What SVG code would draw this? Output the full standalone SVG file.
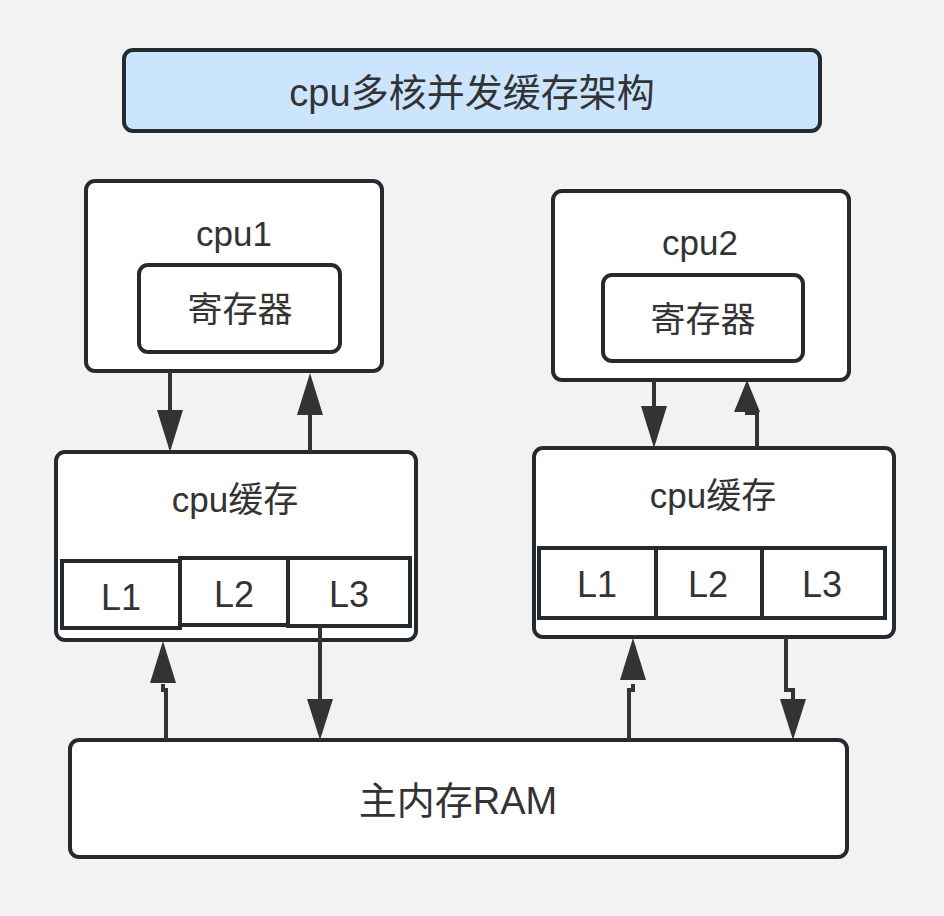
<svg xmlns="http://www.w3.org/2000/svg" width="944" height="916" viewBox="0 0 944 916">
<defs>
<style>
.box{fill:#ffffff;stroke:#252a31;stroke-width:4}
.t{font-family:"Liberation Sans","Noto Sans CJK SC",sans-serif;fill:#333333;text-anchor:middle}
.ln{fill:none;stroke:#333333;stroke-width:4}
.hd{fill:#333333}
</style>
</defs>
<rect width="944" height="916" fill="#f2f2f2"/>
<g id="title">
<rect x="124" y="50" width="696" height="81" rx="9" fill="#cce5ff" stroke="#252a31" stroke-width="4"/>
<text class="t" x="472" y="106" font-size="38">cpu多核并发缓存架构</text>
</g>
<g id="cpu1">
<rect class="box" x="86" y="181" width="296" height="190" rx="9"/>
<text class="t" x="234" y="246" font-size="35">cpu1</text>
</g>
<g id="reg1">
<rect class="box" x="139" y="265" width="201" height="87" rx="9"/>
<text class="t" x="240" y="322" font-size="35">寄存器</text>
</g>
<g id="cpu2">
<rect class="box" x="553" y="191" width="296" height="189" rx="9"/>
<text class="t" x="700" y="255" font-size="35">cpu2</text>
</g>
<g id="reg2">
<rect class="box" x="603" y="275" width="200" height="86" rx="9"/>
<text class="t" x="703" y="332" font-size="35">寄存器</text>
</g>
<g id="cache1">
<rect class="box" x="56" y="452" width="360" height="188" rx="9"/>
<text class="t" x="235" y="512" font-size="35">cpu缓存</text>
</g>
<g id="c1L1">
<rect class="box" x="62" y="561" width="118" height="67"/>
<text class="t" x="121" y="610" font-size="36">L1</text>
</g>
<g id="c1L2">
<rect class="box" x="180" y="558" width="108" height="67"/>
<text class="t" x="234" y="607" font-size="36">L2</text>
</g>
<g id="c1L3">
<rect class="box" x="288" y="558" width="122" height="68"/>
<text class="t" x="349" y="607" font-size="36">L3</text>
</g>
<g id="cache2">
<rect class="box" x="534" y="448" width="360" height="189" rx="9"/>
<text class="t" x="713" y="508" font-size="35">cpu缓存</text>
</g>
<g id="c2L1">
<rect class="box" x="539" y="548" width="117" height="70"/>
<text class="t" x="597" y="597" font-size="36">L1</text>
</g>
<g id="c2L2">
<rect class="box" x="656" y="548" width="106" height="70"/>
<text class="t" x="708" y="597" font-size="36">L2</text>
</g>
<g id="c2L3">
<rect class="box" x="762" y="548" width="123" height="70"/>
<text class="t" x="822" y="597" font-size="36">L3</text>
</g>
<g id="ram">
<rect class="box" x="70" y="740" width="777" height="117" rx="9"/>
<text class="t" x="458" y="814" font-size="38">主内存RAM</text>
</g>
<g id="connectors">
<path class="ln" d="M170 371 V412"/>
<path class="hd" d="M157 410 L183 410 L170 452 Z"/>
<path class="ln" d="M310 452 V412"/>
<path class="hd" d="M297 415 L323 415 L310 373 Z"/>
<path class="ln" d="M654 380 V408"/>
<path class="hd" d="M641 406 L667 406 L654 448 Z"/>
<path class="ln" d="M757 448 V413 H747 V410"/>
<path class="hd" d="M734 412 L760 412 L747 380 Z"/>
<path class="ln" d="M166 740 V690 H163 V684"/>
<path class="hd" d="M150 683 L176 683 L163 641 Z"/>
<path class="ln" d="M320 626 V702"/>
<path class="hd" d="M307 699 L333 699 L320 740 Z"/>
<path class="ln" d="M629 740 V690 H633 V684"/>
<path class="hd" d="M620 680 L646 680 L633 638 Z"/>
<path class="ln" d="M786 637 V690 H793 V702"/>
<path class="hd" d="M780 699 L806 699 L793 740 Z"/>
</g>
</svg>
